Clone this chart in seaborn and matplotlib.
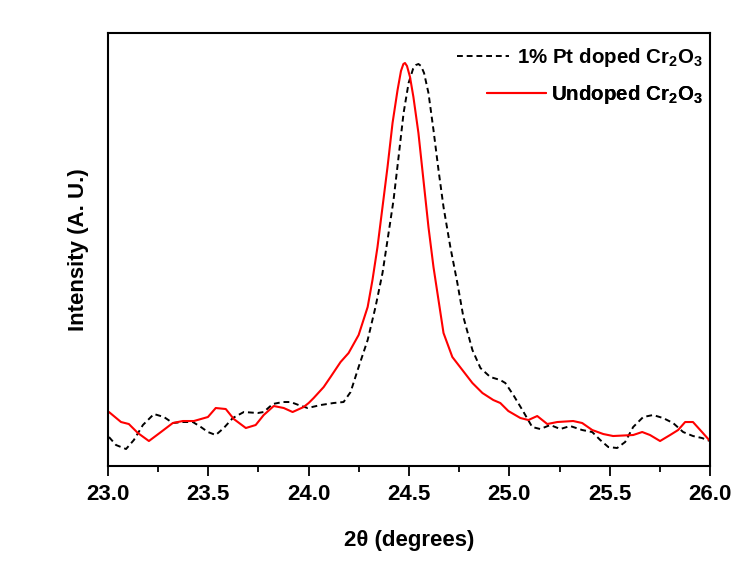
import numpy as np
import pandas as pd
import matplotlib
matplotlib.use("Agg")
import matplotlib.pyplot as plt
from matplotlib.ticker import MultipleLocator
import seaborn as sns

# 2theta (deg) and intensity (a.u.)
undoped_2theta = [23.005, 23.065, 23.104, 23.149, 23.204, 23.264, 23.323, 23.373, 23.428, 23.498,
                  23.537, 23.587, 23.627, 23.687, 23.736, 23.776, 23.826, 23.876, 23.920, 23.975,
                  24.000, 24.025, 24.075, 24.109, 24.159, 24.199, 24.249, 24.294, 24.318, 24.343,
                  24.368, 24.393, 24.418, 24.443, 24.460, 24.472, 24.480, 24.490, 24.505, 24.522,
                  24.547, 24.572, 24.597, 24.622, 24.647, 24.672, 24.716, 24.766, 24.816, 24.866,
                  24.920, 24.955, 24.995, 25.055, 25.095, 25.139, 25.189, 25.239, 25.318, 25.363,
                  25.413, 25.468, 25.517, 25.617, 25.662, 25.701, 25.751, 25.801, 25.841, 25.876,
                  25.915, 25.960, 26.000]
undoped_int = [55, 45, 43, 34, 26, 35, 44, 46, 46, 50,
               59, 58, 48, 39, 42, 52, 61, 59, 55, 60,
               64, 69, 80, 90, 105, 114, 132, 160, 187, 220,
               260, 300, 344, 377, 396, 403, 404, 401, 390, 370,
               334, 287, 240, 200, 167, 134, 110, 97, 84, 74,
               67, 64, 56, 49, 47, 51, 43, 45, 46, 44,
               37, 33, 31, 32, 35, 32, 26, 32, 37, 45,
               45, 35, 26]

doped_2theta = [23.005, 23.040, 23.090, 23.129, 23.174, 23.229, 23.279, 23.323, 23.373, 23.423,
                23.463, 23.498, 23.537, 23.577, 23.622, 23.677, 23.746, 23.776, 23.821, 23.871,
                23.910, 23.950, 23.995, 24.060, 24.124, 24.174, 24.209, 24.249, 24.294, 24.333,
                24.368, 24.393, 24.423, 24.448, 24.473, 24.498, 24.520, 24.535, 24.547, 24.560,
                24.575, 24.597, 24.622, 24.647, 24.672, 24.706, 24.741, 24.771, 24.816, 24.856,
                24.905, 24.955, 24.980, 25.020, 25.065, 25.114, 25.154, 25.204, 25.254, 25.303,
                25.363, 25.413, 25.453, 25.493, 25.537, 25.577, 25.617, 25.667, 25.716, 25.766,
                25.816, 25.866, 25.915, 25.960, 26.000]
doped_int = [30, 22, 18, 27, 42, 53, 50, 44, 45, 45,
             40, 35, 32, 39, 49, 55, 54, 55, 63, 65,
             65, 62, 59, 62, 64, 65, 75, 100, 127, 160,
             194, 227, 267, 310, 354, 384, 398, 402, 403, 401,
             394, 374, 337, 297, 260, 220, 184, 150, 117, 99,
             90, 87, 84, 72, 57, 40, 38, 42, 38, 41,
             37, 35, 27, 20, 19, 25, 40, 50, 52, 49,
             44, 35, 31, 29, 26]

xticks = [23.0, 23.5, 24.0, 24.5, 25.0, 25.5, 26.0]

sns.set_style("ticks")
plt.rcParams["font.family"] = ["Liberation Sans", "DejaVu Sans"]
plt.rcParams["font.weight"] = "bold"
plt.rcParams["text.color"] = "black"
plt.rcParams["axes.labelcolor"] = "black"
plt.rcParams["xtick.color"] = "black"
plt.rcParams["mathtext.fontset"] = "custom"
plt.rcParams["mathtext.rm"] = "Liberation Sans:bold"
plt.rcParams["mathtext.bf"] = "Liberation Sans:bold"

doped = pd.DataFrame({"x": doped_2theta, "y": doped_int})
undoped = pd.DataFrame({"x": undoped_2theta, "y": undoped_int})

fig = plt.figure(figsize=(7.37, 5.73), dpi=100)
ax = fig.add_axes([0.1465, 0.1867, 0.8169, 0.7557])

sns.lineplot(data=doped, x="x", y="y", ax=ax, color="black", linestyle=(0, (3, 2)),
             linewidth=1.4, label=r"1% Pt doped Cr$_{\mathbf{2}}$O$_{\mathbf{3}}$", legend=False)
sns.lineplot(data=undoped, x="x", y="y", ax=ax, color="#ff0000", linewidth=1.5,
             label=r"Undoped Cr$_{\mathbf{2}}$O$_{\mathbf{3}}$", legend=False)

ax.set_xlim(23.0, 26.0)
ax.set_ylim(1, 434)
ax.set_xticks(xticks)
ax.set_xticklabels([f"{t:.1f}" for t in xticks])
ax.xaxis.set_minor_locator(MultipleLocator(0.25))
ax.set_yticks([])
ax.tick_params(axis="x", which="major", direction="out", length=7, width=1.3,
               labelsize=16, pad=6, colors="black")
ax.tick_params(axis="x", which="minor", direction="out", length=4, width=1.3)
for side in ["top", "right", "left", "bottom"]:
    ax.spines[side].set_visible(True)
    ax.spines[side].set_linewidth(1.5)
    ax.spines[side].set_color("black")
for lab in ax.get_xticklabels():
    lab.set_fontweight("bold")

ax.set_xlabel("2θ (degrees)", fontsize=16, fontweight="bold", labelpad=18)
ax.set_ylabel("Intensity (A. U.)", fontsize=16, fontweight="bold", labelpad=14)

# one legend per row so each row is right-aligned like the original
lines = ax.get_lines()
row_y = [0.943, 0.857]
row_hlen = [2.53, 2.87]
row_pad = [0.39, 0.26]
for i, line in enumerate(lines[:2]):
    leg = ax.legend([line], [line.get_label()], loc="center right",
                    bbox_to_anchor=(0.988, row_y[i]), frameon=False, fontsize=14.8,
                    handlelength=row_hlen[i], handletextpad=row_pad[i],
                    borderpad=0, borderaxespad=0)
    for t in leg.get_texts():
        t.set_fontweight("bold")
        t.set_color("black")
    ax.add_artist(leg)

fig.savefig("out.png", dpi=100, facecolor="white")
